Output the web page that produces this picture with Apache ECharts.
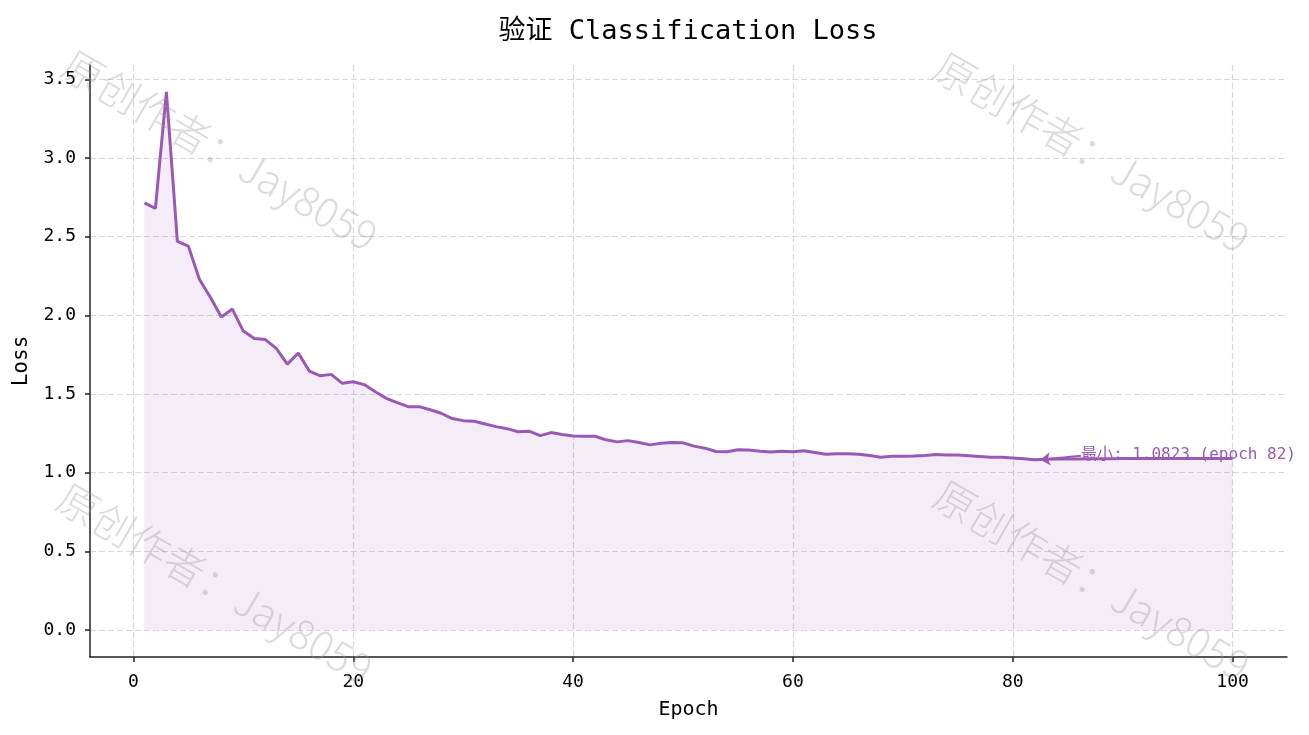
<!DOCTYPE html>
<html>
<head>
<meta charset="utf-8">
<script src="https://cdn.jsdelivr.net/npm/echarts@6/dist/echarts.min.js"></script>
<style>
html,body{margin:0;padding:0;background:#fff;}
#chart{width:1309px;height:735px;}
</style>
</head>
<body>
<div id="chart"></div>
<script>
const epochs = Array.from({length: 100}, (_, i) => i + 1);
const valLoss = [
  2.715, 2.68, 3.42, 2.47, 2.44, 2.23, 2.115, 1.99, 2.04, 1.90,
  1.853, 1.846, 1.79, 1.69, 1.76, 1.646, 1.616, 1.625, 1.568, 1.578,
  1.56, 1.515, 1.473, 1.445, 1.42, 1.42, 1.40, 1.378, 1.344, 1.331,
  1.327, 1.31, 1.293, 1.28, 1.26, 1.264, 1.236, 1.255, 1.243, 1.234,
  1.232, 1.232, 1.209, 1.196, 1.204, 1.192, 1.177, 1.188, 1.192, 1.19,
  1.169, 1.156, 1.135, 1.133, 1.146, 1.144, 1.137, 1.131, 1.137, 1.133,
  1.14, 1.129, 1.118, 1.12, 1.12, 1.118, 1.11, 1.099, 1.105, 1.104,
  1.106, 1.11, 1.116, 1.113, 1.113, 1.108, 1.103, 1.098, 1.098, 1.094,
  1.089, 1.0823, 1.085, 1.087, 1.088, 1.088, 1.089, 1.089, 1.089, 1.09,
  1.09, 1.09, 1.09, 1.09, 1.09, 1.09, 1.09, 1.09, 1.09, 1.09
];
const xTicks = [0, 20, 40, 60, 80, 100];
const yTicks = [0.0, 0.5, 1.0, 1.5, 2.0, 2.5, 3.0, 3.5];
const titleText = '验证 Classification Loss';
const watermarkText = '原创作者：Jay8059';

const LINE_COLOR = '#9b59b6';
const MONO = "'DejaVu Sans Mono', 'Noto Sans CJK SC', monospace";

let minVal = Infinity, minIdx = 0;
valLoss.forEach((v, i) => { if (v < minVal) { minVal = v; minIdx = i; } });
const minEpoch = epochs[minIdx];
const maxVal = Math.max(...valLoss);

const xSpan = epochs[epochs.length - 1] - epochs[0];
const xMin = epochs[0] - xSpan * 0.05;
const xMax = epochs[epochs.length - 1] + xSpan * 0.05;
const yMin = 0 - maxVal * 0.05;
const yMax = maxVal * 1.05;

const chart = echarts.init(document.getElementById('chart'));
const wmStyle = (x, y) => ({
  type: 'text',
  x: x, y: y,
  rotation: -Math.PI / 6,
  z: 100,
  silent: true,
  style: {
    text: watermarkText,
    fill: 'rgba(150,150,150,0.34)',
    font: "300 41px 'Noto Sans CJK SC', 'DejaVu Sans', sans-serif",
    textAlign: 'center',
    textVerticalAlign: 'middle'
  }
});

chart.setOption({
  animation: false,
  title: {
    text: titleText,
    left: 683,
    textAlign: 'center',
    top: 13,
    textStyle: { fontFamily: MONO, fontSize: 27, fontWeight: 'normal', color: '#000' }
  },
  grid: { left: 90, right: 22, top: 65, bottom: 78, containLabel: false },
  xAxis: {
    type: 'value',
    min: xMin, max: xMax,
    name: 'Epoch',
    nameLocation: 'middle',
    nameGap: 43,
    nameTextStyle: { fontFamily: MONO, fontSize: 20, color: '#000' },
    axisLine: { onZero: false, lineStyle: { color: '#222', width: 1.5 } },
    axisTick: { show: true, length: 5, lineStyle: { color: '#222', width: 1.5 }, customValues: xTicks },
    axisLabel: { customValues: xTicks, margin: 16, fontFamily: MONO, fontSize: 18, color: '#000', formatter: v => String(v) },
    splitLine: { show: true, lineStyle: { type: [6, 3], color: '#d8d8d8', width: 1.2 } }
  },
  yAxis: {
    type: 'value',
    min: yMin, max: yMax,
    name: 'Loss',
    nameLocation: 'middle',
    nameGap: 58,
    nameTextStyle: { fontFamily: MONO, fontSize: 21, color: '#000' },
    axisLine: { show: true, onZero: false, lineStyle: { color: '#222', width: 1.5 } },
    axisTick: { show: true, length: 5, lineStyle: { color: '#222', width: 1.5 }, customValues: yTicks },
    axisLabel: { customValues: yTicks, margin: 14, fontFamily: MONO, fontSize: 18, color: '#000', formatter: v => v.toFixed(1) },
    splitLine: { show: true, lineStyle: { type: [6, 3], color: '#d8d8d8', width: 1.2 } }
  },
  series: [{
    type: 'line',
    data: epochs.map((e, i) => [e, valLoss[i]]),
    showSymbol: false,
    symbol: 'none',
    lineStyle: { color: LINE_COLOR, width: 3 },
    itemStyle: { color: LINE_COLOR },
    areaStyle: { color: 'rgba(155,89,182,0.15)', origin: 0 },
    z: 3,
    markLine: {
      silent: true,
      animation: false,
      symbol: ['none', 'arrow'],
      symbolSize: [10, 10],
      label: { show: false },
      lineStyle: { color: LINE_COLOR, width: 2, type: 'solid' },
      data: [[
        { coord: [minEpoch + 4.2, minVal + 0.025] },
        { coord: [minEpoch + 0.5, minVal] }
      ]]
    },
    markPoint: {
      silent: true,
      animation: false,
      symbol: 'circle',
      symbolSize: 0,
      data: [{
        coord: [minEpoch + 4.2, minVal + 0.03],
        label: {
          show: true,
          position: 'right',
          distance: 0,
          formatter: '最小: ' + minVal.toFixed(4) + ' (epoch ' + minEpoch + ')',
          fontFamily: MONO,
          fontSize: 16,
          color: LINE_COLOR
        }
      }]
    }
  }],
  graphic: [
    wmStyle(220, 150),
    wmStyle(1092, 152),
    wmStyle(215, 583),
    wmStyle(1092, 580)
  ]
});
</script>
</body>
</html>
